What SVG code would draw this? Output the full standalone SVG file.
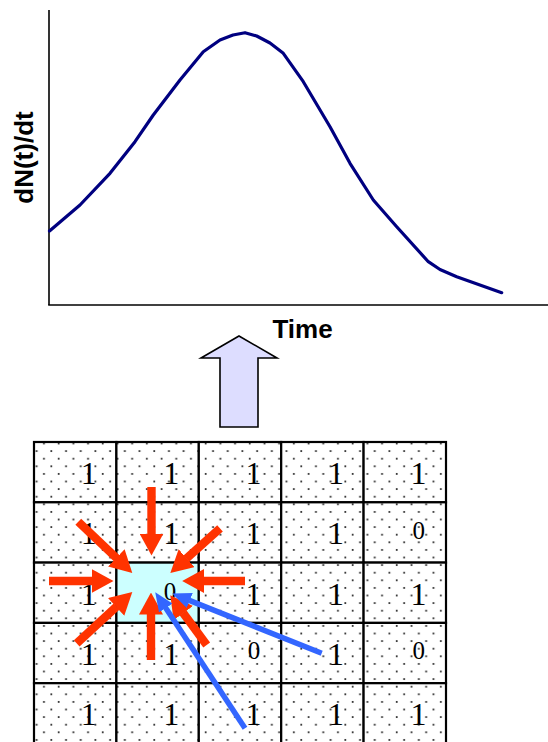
<svg xmlns="http://www.w3.org/2000/svg" width="548" height="742" viewBox="0 0 548 742">
<style>
.axis{stroke:#000;stroke-width:1.6;fill:none}
.curve{stroke:#000080;stroke-width:3.2;fill:none;stroke-linejoin:round;stroke-linecap:round}
.lbl{font-family:"Liberation Sans",Arial,sans-serif;font-weight:bold;font-size:26px;fill:#000}
.cell{fill:url(#dots);stroke:#000;stroke-width:2.2}
.hot{fill:#CCFFFF;stroke:#000;stroke-width:2.2}
.one{font-family:"Liberation Serif","Times New Roman",serif;font-size:32px;fill:#000;text-anchor:middle}
.zero{font-family:"Liberation Serif","Times New Roman",serif;font-size:25px;fill:#000;text-anchor:middle}
.red{stroke:#FF3300;stroke-width:8.4;fill:none;marker-end:url(#redHead)}
.blue{stroke:#3366FF;stroke-width:5.5;fill:none;marker-end:url(#blueHead)}
</style>
<defs>
<pattern id="dots" patternUnits="userSpaceOnUse" x="40.3" y="454.9" width="14.7" height="15.2">
<rect width="14.7" height="15.2" fill="#fff"/>
<circle cx="3.675" cy="3.8" r="1.05" fill="#222"/>
<circle cx="11.025" cy="11.4" r="1.05" fill="#222"/>
</pattern>
<marker id="redHead" markerUnits="userSpaceOnUse" viewBox="0 0 22 24" markerWidth="22" markerHeight="24" refX="0.5" refY="12" orient="auto">
<path d="M0,0 L22,12 L0,24 Z" fill="#FF3300"/>
</marker>
<marker id="blueHead" markerUnits="userSpaceOnUse" viewBox="0 0 19 16" markerWidth="19" markerHeight="16" refX="0.5" refY="8" orient="auto">
<path d="M0,0 L19,8 L0,16 Z" fill="#3366FF"/>
</marker>
</defs>

<g id="chart">
<line class="axis" x1="49" y1="10" x2="49" y2="305"/>
<line class="axis" x1="48.2" y1="305" x2="548" y2="305"/>
<polyline class="curve" points="49.5,231 80,205 110,173.3 135,141.7 153.3,115 180,80 203.3,51.7 220,40 233,35 245,32.7 256.7,36 270,43 283.3,53.3 303.3,81.7 330,126.7 350,163.3 373.3,200 396.7,226.7 428.3,261.7 440,269.5 456.7,276.7 501.7,292.7"/>
<text class="lbl" text-anchor="middle" transform="translate(32.5,157.5) rotate(-90)">dN(t)/dt</text>
<text class="lbl" x="302.5" y="338" text-anchor="middle">Time</text>
</g>

<g id="up-arrow">
<polygon points="239,336 277,358 258,358 258,427 220,427 220,358 201,358" fill="#DDDDFF" stroke="#000" stroke-width="1.6" stroke-linejoin="miter"/>
</g>

<g id="grid">
<g id="r1c1"><rect class="cell" x="34" y="442" width="82.4" height="60.3"/><text class="one" x="88.8" y="484">1</text></g>
<g id="r1c2"><rect class="cell" x="116.4" y="442" width="82.4" height="60.3"/><text class="one" x="171.2" y="484">1</text></g>
<g id="r1c3"><rect class="cell" x="198.8" y="442" width="82.4" height="60.3"/><text class="one" x="253.6" y="484">1</text></g>
<g id="r1c4"><rect class="cell" x="281.2" y="442" width="82.4" height="60.3"/><text class="one" x="336" y="484">1</text></g>
<g id="r1c5"><rect class="cell" x="363.6" y="442" width="82.4" height="60.3"/><text class="one" x="418.4" y="484">1</text></g>

<g id="r2c1"><rect class="cell" x="34" y="502.3" width="82.4" height="60.3"/><text class="one" x="88.8" y="544.3">1</text></g>
<g id="r2c2"><rect class="cell" x="116.4" y="502.3" width="82.4" height="60.3"/><text class="one" x="171.2" y="544.3">1</text></g>
<g id="r2c3"><rect class="cell" x="198.8" y="502.3" width="82.4" height="60.3"/><text class="one" x="253.6" y="544.3">1</text></g>
<g id="r2c4"><rect class="cell" x="281.2" y="502.3" width="82.4" height="60.3"/><text class="one" x="336" y="544.3">1</text></g>
<g id="r2c5"><rect class="cell" x="363.6" y="502.3" width="82.4" height="60.3"/><text class="zero" x="418.8" y="538.5">0</text></g>

<g id="r3c1"><rect class="cell" x="34" y="562.6" width="82.4" height="60.3"/><text class="one" x="88.8" y="604.6">1</text></g>
<g id="r3c2"><rect class="hot" x="116.4" y="562.6" width="82.4" height="60.3"/><text class="zero" x="170" y="599.5">0</text></g>
<g id="r3c3"><rect class="cell" x="198.8" y="562.6" width="82.4" height="60.3"/><text class="one" x="253.6" y="604.6">1</text></g>
<g id="r3c4"><rect class="cell" x="281.2" y="562.6" width="82.4" height="60.3"/><text class="one" x="336" y="604.6">1</text></g>
<g id="r3c5"><rect class="cell" x="363.6" y="562.6" width="82.4" height="60.3"/><text class="one" x="418.4" y="604.6">1</text></g>

<g id="r4c1"><rect class="cell" x="34" y="622.9" width="82.4" height="60.3"/><text class="one" x="88.8" y="664.9">1</text></g>
<g id="r4c2"><rect class="cell" x="116.4" y="622.9" width="82.4" height="60.3"/><text class="one" x="171.2" y="664.9">1</text></g>
<g id="r4c3"><rect class="cell" x="198.8" y="622.9" width="82.4" height="60.3"/><text class="zero" x="254" y="659">0</text></g>
<g id="r4c4"><rect class="cell" x="281.2" y="622.9" width="82.4" height="60.3"/><text class="one" x="336" y="664.9">1</text></g>
<g id="r4c5"><rect class="cell" x="363.6" y="622.9" width="82.4" height="60.3"/><text class="zero" x="418.8" y="659">0</text></g>

<g id="r5c1"><rect class="cell" x="34" y="683.2" width="82.4" height="60.3"/><text class="one" x="88.8" y="725.2">1</text></g>
<g id="r5c2"><rect class="cell" x="116.4" y="683.2" width="82.4" height="60.3"/><text class="one" x="171.2" y="725.2">1</text></g>
<g id="r5c3"><rect class="cell" x="198.8" y="683.2" width="82.4" height="60.3"/><text class="one" x="253.6" y="725.2">1</text></g>
<g id="r5c4"><rect class="cell" x="281.2" y="683.2" width="82.4" height="60.3"/><text class="one" x="336" y="725.2">1</text></g>
<g id="r5c5"><rect class="cell" x="363.6" y="683.2" width="82.4" height="60.3"/><text class="one" x="418.4" y="725.2">1</text></g>
</g>

<g id="connectors">
<line class="red" x1="151.5" y1="487" x2="151.5" y2="534"/>
<line class="red" x1="49" y1="581" x2="92" y2="581"/>
<line class="red" x1="245" y1="581" x2="203.7" y2="581"/>
<line class="red" x1="151" y1="660" x2="151" y2="614"/>
<line class="red" x1="78.3" y1="521.7" x2="116.7" y2="558.2"/>
<line class="red" x1="220" y1="528.3" x2="186.3" y2="558.6"/>
<line class="red" x1="76.7" y1="643.3" x2="116.5" y2="606.6"/>
<line class="red" x1="206.7" y1="645" x2="183" y2="612.7"/>
<line class="blue" x1="321.7" y1="653.3" x2="189.3" y2="600.35"/>
<line class="blue" x1="245" y1="728.3" x2="165.45" y2="607.6"/>
</g>
</svg>
